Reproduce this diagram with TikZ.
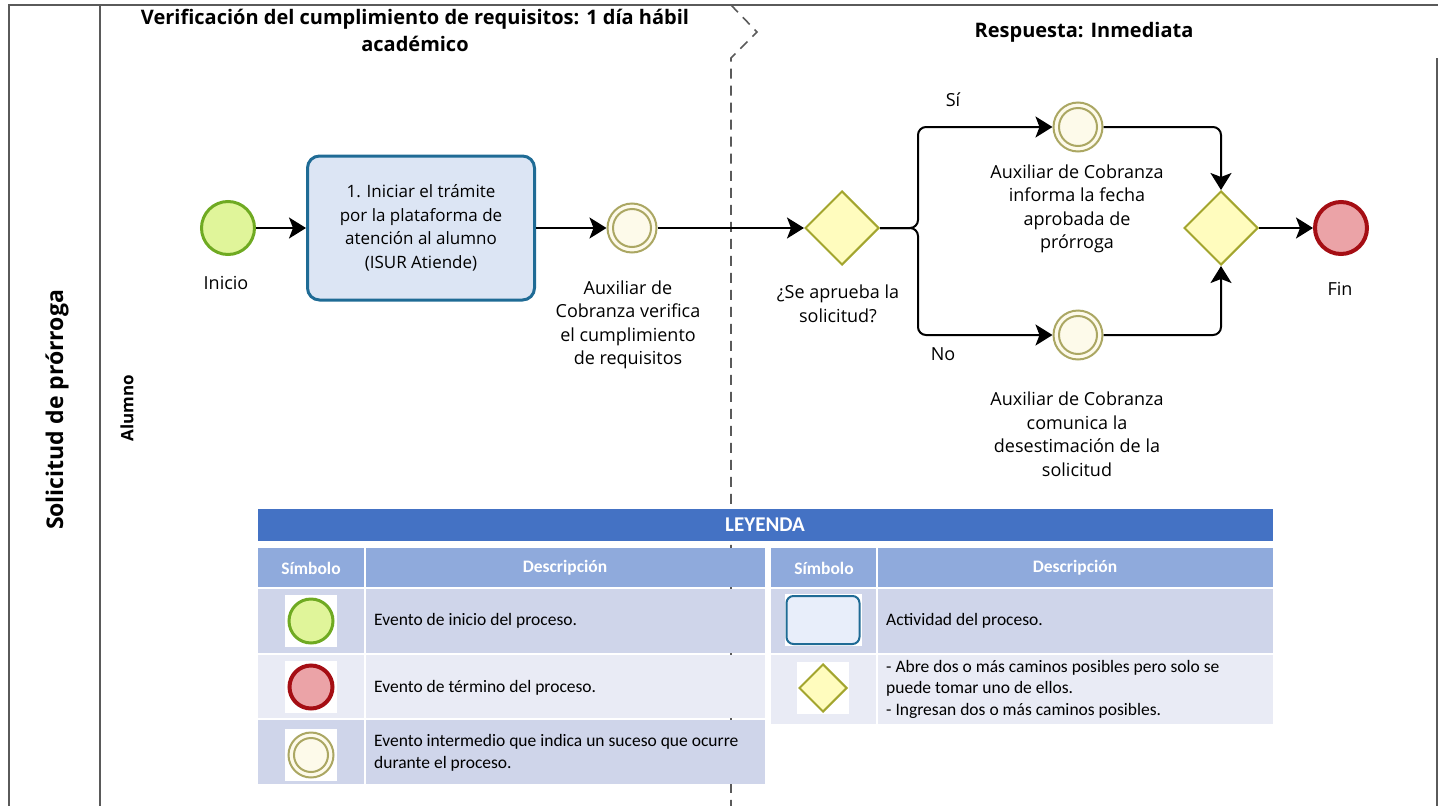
\documentclass[tikz,border=0pt]{standalone}
\usepackage{fontspec}
\setmainfont{Open Sans}
\newfontfamily\legendfont{Carlito}
\usetikzlibrary{arrows.meta,shapes.geometric}

\definecolor{framegray}{HTML}{5A5A5A}
\definecolor{startfill}{HTML}{E0F59A}
\definecolor{startline}{HTML}{6FAA22}
\definecolor{endfill}{HTML}{EBA3A7}
\definecolor{endline}{HTML}{A50E14}
\definecolor{midfill}{HTML}{FDFAEA}
\definecolor{midline}{HTML}{ABA763}
\definecolor{gatefill}{HTML}{FFFCBE}
\definecolor{gateline}{HTML}{A3A52E}
\definecolor{taskfill}{HTML}{DCE5F4}
\definecolor{taskline}{HTML}{1F6B95}
\definecolor{legendhead}{HTML}{4472C4}
\definecolor{colhead}{HTML}{8FAADC}
\definecolor{rowdark}{HTML}{CFD5EA}
\definecolor{rowlight}{HTML}{E9EBF5}
\definecolor{legtask}{HTML}{E8EEFA}

\tikzset{
  frameline/.style={draw=framegray, line width=2pt},
  lanedash/.style={draw=framegray, line width=1.6pt, dash pattern=on 10pt off 7pt},
  titletext/.style={font=\bfseries\fontsize{20}{27}\selectfont, align=center, inner sep=0pt},
  pooltext/.style={font=\bfseries\fontsize{23}{27}\selectfont, inner sep=0pt},
  lanetext/.style={font=\bfseries\fontsize{17}{20}\selectfont, inner sep=0pt},
  labeltext/.style={font=\fontsize{18}{23.5}\selectfont, align=center, inner sep=0pt},
  startev/.style={circle, draw=startline, fill=startfill, line width=3pt, minimum size=#1, inner sep=0pt},
  endev/.style={circle, draw=endline, fill=endfill, line width=4pt, minimum size=#1, inner sep=0pt},
  midev/.style={circle, draw=midline, fill=midfill, line width=2pt, minimum size=#1, inner sep=0pt,
    path picture={\draw[midline, line width=2pt] (path picture bounding box.center) circle[radius=#1/2-5.5pt];}},
  gateway/.style={diamond, draw=gateline, fill=gatefill, line width=2pt, minimum width=#1, minimum height=#1, inner sep=0pt, aspect=1},
  taskbox/.style={rectangle, rounded corners=12pt, draw=taskline, fill=taskfill, line width=3pt,
    minimum width=227pt, minimum height=144pt, align=center, font=\fontsize{17}{23.5}\selectfont},
  flow/.style={draw=black, line width=2pt, -{Stealth[length=17pt, width=21pt, inset=4pt]}, rounded corners=8pt},
  headtext/.style={font=\legendfont\bfseries\fontsize{17.5}{20}\selectfont, text=white, inner sep=0pt},
  celltext/.style={font=\legendfont\fontsize{17.5}{21.5}\selectfont, align=left, anchor=west, inner sep=0pt},
  whitebox/.style={draw=none, fill=white, minimum width=52pt, minimum height=52pt, inner sep=0pt},
}

\begin{document}
\begin{tikzpicture}[x=1pt, y=-1pt]
\useasboundingbox (0,0) rectangle (1438,806);

% pool and lane borders
\draw[frameline] (9,806) -- (9,5) -- (1438,5);
\draw[frameline] (100,5) -- (100,806);
\draw[frameline] (1437,58) -- (1437,806);

% phase separator
\draw[lanedash] (731,5) -- (757,32) -- (731,58) -- (731,806);

% phase titles
\node[titletext] (phaseA) at (415,30) {Verificación del cumplimiento de requisitos: 1 día hábil\\académico};
\node[titletext] (phaseB) at (1084,32) {Respuesta: Inmediata};

% pool and lane names
\node[pooltext, rotate=90] (pool) at (57,410) {Solicitud de prórroga};
\node[lanetext, rotate=90] (lane) at (127,408) {Alumno};

% process elements
\node[startev=53pt] (start) at (228,228) {};
\node[labeltext] (startlbl) at (226,283) {Inicio};

\node[taskbox] (task) at (421,228) {1. Iniciar el trámite\\por la plataforma de\\atención al alumno\\(ISUR Atiende)};

\node[midev=49pt] (check) at (632,228) {};
\node[labeltext] (checklbl) at (628,325) {Auxiliar de\\Cobranza verifica\\el cumplimiento\\de requisitos};

\node[gateway=74pt] (split) at (842,228) {};
\node[labeltext] (splitlbl) at (838,304) {¿Se aprueba la\\solicitud?};

\node[midev=49pt] (yes) at (1078,127) {};
\node[labeltext] (yeslbl) at (1077,209) {Auxiliar de Cobranza\\informa la fecha\\aprobada de\\prórroga};

\node[midev=49pt] (no) at (1078,335) {};
\node[labeltext] (nolbl) at (1077,434) {Auxiliar de Cobranza\\comunica la\\desestimación de la\\solicitud};

\node[gateway=74pt] (merge) at (1221,228) {};

\node[endev=52pt] (finish) at (1341,228) {};
\node[labeltext] (finishlbl) at (1340,289) {Fin};

\node[labeltext] (yestag) at (953,100) {Sí};
\node[labeltext] (notag) at (943,354) {No};

% sequence flows
\draw[flow] (start) -- (task);
\draw[flow] (task) -- (check);
\draw[flow] (check) -- (split);
\coordinate (fork) at (918,228);
\draw[flow] (split.east) -- (fork) |- (yes.west);
\draw[flow] (split.east) -- (fork) |- (no.west);
\draw[flow] (yes.east) -| (merge.north);
\draw[flow] (no.east) -| (merge.south);
\draw[flow] (merge) -- (finish);

% legend
\fill[legendhead] (258,509) rectangle (1273,541);
\node[headtext, font=\legendfont\bfseries\fontsize{21}{24}\selectfont] (legtitle) at (765,525) {LEYENDA};

% left table
\fill[colhead] (258,548) rectangle (364,587);
\fill[colhead] (366,548) rectangle (765,587);
\node[headtext] (lhsym) at (311,568) {Símbolo};
\node[headtext] (lhdesc) at (565,568) {Descripción};
\fill[rowdark] (258,589) rectangle (364,653);
\fill[rowdark] (366,589) rectangle (765,653);
\fill[rowlight] (258,655) rectangle (364,718);
\fill[rowlight] (366,655) rectangle (765,718);
\fill[rowdark] (258,720) rectangle (364,784);
\fill[rowdark] (366,720) rectangle (765,784);

\node[whitebox] (boxa) at (311,621) {};
\node[startev=44pt] (symstart) at (311,621) {};
\node[celltext] (desca) at (374,621) {Evento de inicio del proceso.};

\node[whitebox] (boxb) at (311,687) {};
\node[endev=43pt] (symend) at (311,687) {};
\node[celltext] (descb) at (374,688) {Evento de término del proceso.};

\node[whitebox] (boxc) at (311,755) {};
\node[midev=45pt] (symmid) at (311,755) {};
\node[celltext] (descc) at (374,753) {Evento intermedio que indica un suceso que ocurre\\durante el proceso.};

% right table
\fill[colhead] (771,548) rectangle (876,587);
\fill[colhead] (878,548) rectangle (1273,587);
\node[headtext] (rhsym) at (824,568) {Símbolo};
\node[headtext] (rhdesc) at (1075,568) {Descripción};
\fill[rowdark] (771,589) rectangle (876,653);
\fill[rowdark] (878,589) rectangle (1273,653);
\fill[rowlight] (771,655) rectangle (876,724);
\fill[rowlight] (878,655) rectangle (1273,724);

\node[whitebox, minimum width=77pt] (boxd) at (823,620) {};
\node[rectangle, rounded corners=7pt, draw=taskline, fill=legtask, line width=2pt,
      minimum width=73pt, minimum height=48pt] (symtask) at (823,620) {};
\node[celltext] (descd) at (886,621) {Actividad del proceso.};

\node[whitebox] (boxe) at (823,688) {};
\node[gateway=48pt] (symgate) at (823,688) {};
\node[celltext] (desce) at (886,689) {- Abre dos o más caminos posibles pero solo se\\puede tomar uno de ellos.\\- Ingresan dos o más caminos posibles.};

\end{tikzpicture}
\end{document}
